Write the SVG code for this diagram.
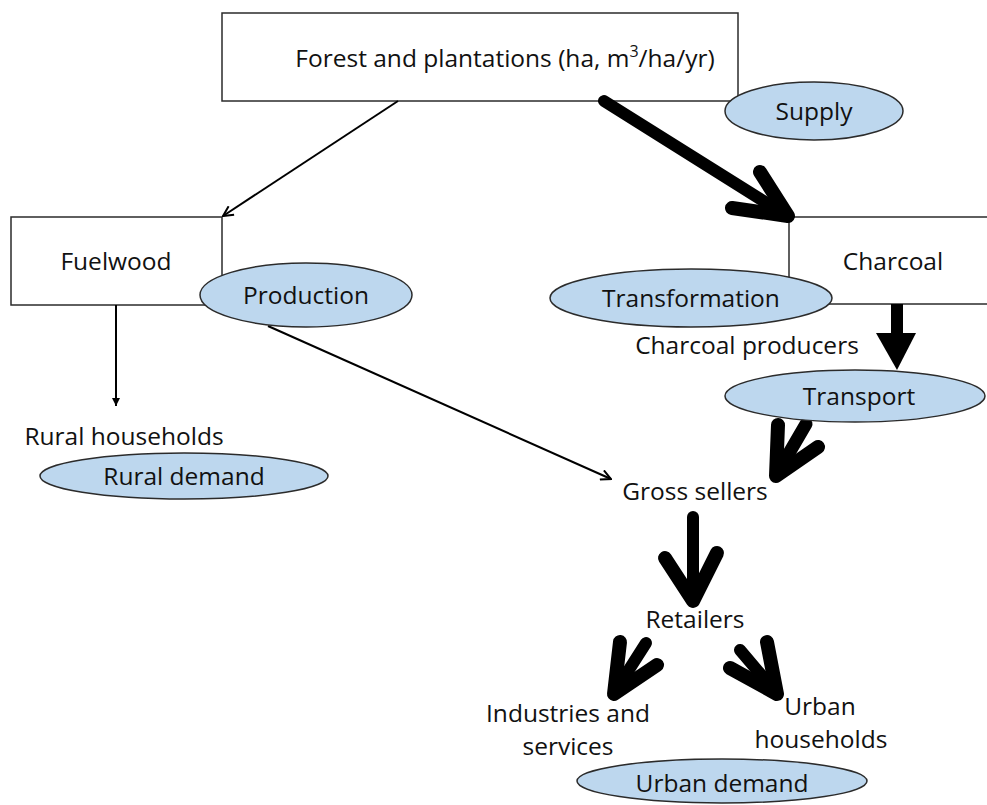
<svg xmlns="http://www.w3.org/2000/svg" width="987" height="805" viewBox="0 0 987 805">
<defs>
<style>
.box{fill:#fff;stroke:#2b2b2b;stroke-width:1.5}
.ell{fill:#bdd7ee;stroke:#2b2b2b;stroke-width:1.5}
text{font-family:"Open Sans","Liberation Sans",sans-serif;font-size:24.5px;fill:#111;text-anchor:middle}
.thin{stroke:#000;stroke-width:2;fill:none}
.thick{stroke:#000;fill:none;stroke-linecap:round;stroke-linejoin:round}
</style>
<marker id="open" viewBox="0 0 12 12" refX="11" refY="6" markerWidth="12" markerHeight="12" markerUnits="userSpaceOnUse" orient="auto">
<path d="M1,1 L11,6 L1,11" fill="none" stroke="#000" stroke-width="2"/>
</marker>
<marker id="tri" viewBox="0 0 10 10" refX="10" refY="5" markerWidth="8" markerHeight="8" markerUnits="userSpaceOnUse" orient="auto">
<path d="M0,0 L10,5 L0,10 Z" fill="#000"/>
</marker>
</defs>
<g id="forest">
<rect class="box" x="222" y="13" width="516" height="88"/>
<text x="505" y="67">Forest and plantations (ha, m<tspan font-size="16" dy="-10">3</tspan><tspan dy="10">/ha/yr)</tspan></text>
</g>
<g id="fuelwood">
<rect class="box" x="11" y="217" width="211" height="88"/>
<text x="116" y="270">Fuelwood</text>
</g>
<g id="charcoal">
<rect class="box" x="789" y="217" width="210" height="87"/>
<text x="893" y="270">Charcoal</text>
</g>
<g id="connectors">
<line class="thin" x1="398" y1="101" x2="223" y2="216" marker-end="url(#open)"/>
<line class="thin" x1="116" y1="305" x2="116" y2="406" marker-end="url(#tri)"/>
<line class="thin" x1="268" y1="326" x2="611" y2="479" marker-end="url(#open)"/>
<line class="thick" x1="604" y1="101" x2="784" y2="214" stroke-width="12"/>
<polyline class="thick" points="760,172 788,216 732,208" stroke-width="14"/>
<line x1="897" y1="304" x2="897" y2="335" stroke="#000" stroke-width="12"/>
<polygon points="876,333 916,333 897,370" fill="#000"/>
<line class="thick" x1="806" y1="424" x2="778" y2="472" stroke-width="13"/>
<polyline class="thick" points="778,425 776,476 818,447" stroke-width="14"/>
<line class="thick" x1="693" y1="517" x2="693" y2="598" stroke-width="12"/>
<polyline class="thick" points="665,558 693,601 717,553" stroke-width="14"/>
<line class="thick" x1="646" y1="643" x2="616" y2="690" stroke-width="12"/>
<polyline class="thick" points="620,642 614,694 657,665" stroke-width="14"/>
<line class="thick" x1="740" y1="650" x2="774" y2="690" stroke-width="12"/>
<polyline class="thick" points="767,642 777,694 730,668" stroke-width="14"/>
</g>
<g id="supply">
<ellipse class="ell" cx="814" cy="111" rx="89" ry="29"/>
<text x="814" y="120">Supply</text>
</g>
<g id="production">
<ellipse class="ell" cx="306" cy="295" rx="106" ry="32"/>
<text x="306" y="304">Production</text>
</g>
<g id="transformation">
<ellipse class="ell" cx="691" cy="298" rx="141" ry="29"/>
<text x="691" y="307">Transformation</text>
</g>
<g id="charcoal-producers">
<text x="747" y="354">Charcoal producers</text>
</g>
<g id="transport">
<ellipse class="ell" cx="855" cy="396" rx="130" ry="26"/>
<text x="859" y="405">Transport</text>
</g>
<g id="rural-households">
<text x="124" y="445">Rural households</text>
</g>
<g id="rural-demand">
<ellipse class="ell" cx="184" cy="476" rx="144" ry="23"/>
<text x="184" y="485">Rural demand</text>
</g>
<g id="gross-sellers">
<text x="695" y="500">Gross sellers</text>
</g>
<g id="retailers">
<text x="695" y="628">Retailers</text>
</g>
<g id="industries">
<text x="568" y="722">Industries and</text>
<text x="568" y="755">services</text>
</g>
<g id="urban-households">
<text x="820" y="715">Urban</text>
<text x="821" y="748">households</text>
</g>
<g id="urban-demand">
<ellipse class="ell" cx="722" cy="781" rx="145" ry="22"/>
<text x="722" y="792">Urban demand</text>
</g>
</svg>
